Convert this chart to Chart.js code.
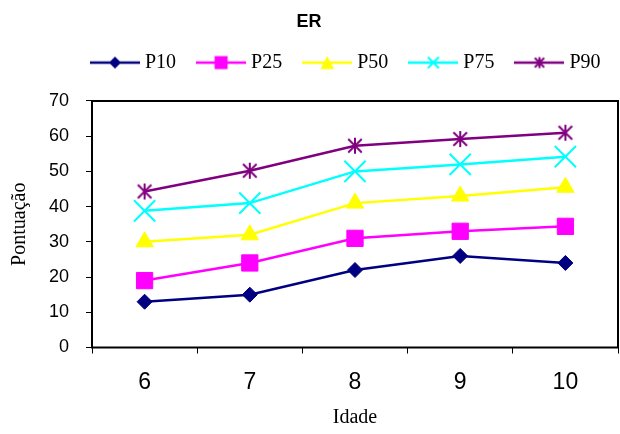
<!DOCTYPE html>
<html><head><meta charset="utf-8">
<script src="https://cdn.jsdelivr.net/npm/chart.js@4.4.1/dist/chart.umd.min.js"></script>
<style>html,body{margin:0;padding:0;background:#fff}#wrap{width:620px;height:434px}</style>
</head><body><div id="wrap"><canvas id="c" width="620" height="434"></canvas></div>
<script>
const categories = ['6', '7', '8', '9', '10'];
const seriesNames = ['P10', 'P25', 'P50', 'P75', 'P90'];
const p10 = [13, 15, 22, 26, 24];
const p25 = [19, 24, 31, 33, 34.4];
const p50 = [30, 32, 41, 43, 45.5];
const p75 = [38.8, 41, 50, 52, 54.2];
const p90 = [44.3, 50.2, 57.3, 59.2, 61];
const yTicks = [0, 10, 20, 30, 40, 50, 60, 70];
const colors = ['#000080', '#FF00FF', '#FFFF00', '#00FFFF', '#800080'];
const markerKinds = ['diamond', 'square', 'triangle', 'x', 'star'];

function drawMarker(ctx, kind, cx, cy, s, color) {
  ctx.fillStyle = color; ctx.strokeStyle = color;
  ctx.beginPath();
  if (kind === 'diamond') {
    ctx.moveTo(cx, cy - s); ctx.lineTo(cx + s, cy); ctx.lineTo(cx, cy + s); ctx.lineTo(cx - s, cy); ctx.closePath(); ctx.fill();
  } else if (kind === 'square') {
    ctx.fillRect(cx - s, cy - s, 2 * s, 2 * s);
  } else if (kind === 'triangle') {
    ctx.moveTo(cx, cy - s); ctx.lineTo(cx + s * 1.05, cy + s); ctx.lineTo(cx - s * 1.05, cy + s); ctx.closePath(); ctx.fill();
  } else if (kind === 'x') {
    ctx.lineWidth = 2;
    ctx.moveTo(cx - s, cy - s); ctx.lineTo(cx + s, cy + s); ctx.moveTo(cx + s, cy - s); ctx.lineTo(cx - s, cy + s); ctx.stroke();
  } else if (kind === 'star') {
    ctx.lineWidth = 2;
    ctx.moveTo(cx, cy - s); ctx.lineTo(cx, cy + s);
    const d = s * 0.85;
    ctx.moveTo(cx - d, cy - d); ctx.lineTo(cx + d, cy + d); ctx.moveTo(cx + d, cy - d); ctx.lineTo(cx - d, cy + d); ctx.stroke();
  }
}

function legendIcon(i) {
  const c = document.createElement('canvas'); c.width = 50; c.height = 20;
  const ctx = c.getContext('2d');
  ctx.strokeStyle = colors[i]; ctx.lineWidth = 2.5;
  ctx.beginPath(); ctx.moveTo(0, 10); ctx.lineTo(50, 10); ctx.stroke();
  const sizes = {diamond: 6, square: 6.5, triangle: 6.5, x: 5.5, star: 5.5};
  drawMarker(ctx, markerKinds[i], 25, 10, sizes[markerKinds[i]], colors[i]);
  return c;
}

function starPoint() {
  const c = document.createElement('canvas'); c.width = 20; c.height = 20;
  drawMarker(c.getContext('2d'), 'star', 10, 10, 8, colors[4]);
  return c;
}

const seriesData = [p10, p25, p50, p75, p90];
const pointStyles = ['rectRot', 'rect', 'triangle', 'crossRot', starPoint()];
const pointRadii = [7.5, 11.5, 10, 15, 8];

const datasets = seriesNames.map((name, i) => ({
  label: name,
  data: seriesData[i],
  borderColor: colors[i],
  backgroundColor: colors[i],
  borderWidth: 2.5,
  pointStyle: pointStyles[i],
  pointRadius: pointRadii[i],
  pointHoverRadius: pointRadii[i],
  pointBorderWidth: i === 3 ? 2 : 1,
  pointBackgroundColor: colors[i],
  pointBorderColor: colors[i],
  tension: 0,
  fill: false
}));

const frame = {
  id: 'frame',
  beforeDatasetsDraw(chart) {
    const {ctx, chartArea: a} = chart;
    ctx.save(); ctx.strokeStyle = '#000'; ctx.lineWidth = 2;
    ctx.strokeRect(a.left, a.top, a.right - a.left, a.bottom - a.top);
    ctx.restore();
  }
};
const legendSpacer = {
  id: 'legendSpacer',
  beforeInit(chart) {
    const orig = chart.legend.fit;
    chart.legend.fit = function () { orig.call(this); this.height += 18.4; };
  },
  afterLayout(chart) {
    const lg = chart.legend, ca = chart.chartArea;
    const pad = lg.options.labels.padding;
    const start = (lg.left + pad + lg.right - lg.lineWidths[0]) / 2;
    const delta = (ca.left + 3) - start;
    lg.left += delta; lg.right += delta;
  }
};

new Chart(document.getElementById('c'), {
  type: 'line',
  data: {labels: categories, datasets},
  plugins: [legendSpacer, frame],
  options: {
    responsive: false,
    devicePixelRatio: 1,
    animation: false,
    layout: {autoPadding: false, padding: {left: 0, right: 2, top: 0, bottom: 0}},
    plugins: {
      tooltip: {enabled: false},
      title: {
        display: true, text: 'ER', color: '#000',
        font: {family: '"Liberation Sans", Arial, sans-serif', size: 18, weight: 'bold', lineHeight: 0.633},
        padding: {top: 16.2, bottom: 0}
      },
      legend: {
        display: true, position: 'top', fullSize: true,
        labels: {
          usePointStyle: true, pointStyleWidth: 40, padding: 25, color: '#000',
          font: {family: '"Liberation Serif", "Times New Roman", serif', size: 20},
          generateLabels(chart) {
            return chart.data.datasets.map((ds, i) => ({
              text: ds.label, pointStyle: legendIcon(i), fillStyle: colors[i], strokeStyle: colors[i],
              lineWidth: 0, hidden: false, datasetIndex: i, fontColor: '#000'
            }));
          }
        }
      }
    },
    scales: {
      x: {
        offset: true,
        afterFit(scale) { scale.paddingLeft = 0; scale.paddingRight = 0; scale.height = 86.5; },
        grid: {offset: true, drawOnChartArea: false, drawTicks: true, tickLength: 6, color: '#000', lineWidth: 1},
        border: {display: false},
        ticks: {color: '#000', padding: 15, maxRotation: 0, autoSkip: false, font: {family: '"Liberation Sans", Arial, sans-serif', size: 23}},
        title: {display: true, text: 'Idade', color: '#000', padding: {top: 10, bottom: 4},
          font: {family: '"Liberation Serif", "Times New Roman", serif', size: 20}}
      },
      y: {
        min: 0, max: 70,
        afterBuildTicks(scale) { scale.ticks = yTicks.map(v => ({value: v})); },
        afterFit(scale) { scale.width = 92; },
        grid: {drawOnChartArea: false, drawTicks: true, tickLength: 6, color: '#000', lineWidth: 1},
        border: {display: false},
        ticks: {color: '#000', padding: 17, font: {family: '"Liberation Sans", Arial, sans-serif', size: 18}},
        title: {display: true, text: 'Pontuação', color: '#000', padding: {top: 8, bottom: 0},
          font: {family: '"Liberation Serif", "Times New Roman", serif', size: 20}}
      }
    }
  }
});
</script></body></html>
